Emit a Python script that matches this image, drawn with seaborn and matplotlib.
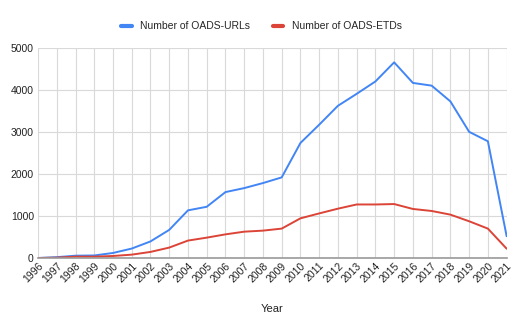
import matplotlib
matplotlib.use("Agg")
import matplotlib.pyplot as plt
from matplotlib.lines import Line2D
import seaborn as sns
import pandas as pd

years = list(range(1996, 2022))
oads_urls = [0, 20, 55, 60, 120, 225, 395, 670, 1135, 1220, 1570, 1665, 1785, 1920,
             2740, 3175, 3625, 3910, 4205, 4660, 4170, 4105, 3730, 3005, 2780, 520]
oads_etds = [0, 8, 32, 32, 48, 80, 145, 248, 415, 485, 563, 627, 652, 700,
             945, 1062, 1175, 1275, 1275, 1285, 1168, 1120, 1033, 875, 700, 222]

df = pd.DataFrame({
    "Year": years,
    "Number of OADS-URLs": oads_urls,
    "Number of OADS-ETDs": oads_etds,
})
long = df.melt(id_vars="Year", var_name="Series", value_name="Count")

sns.set_theme(style="white")
plt.rcParams["font.family"] = ["Liberation Sans", "DejaVu Sans"]

fig = plt.figure(figsize=(5.23, 3.27), dpi=100)
ax = fig.add_axes([0.0727, 0.211, 0.896, 0.642])

palette = {"Number of OADS-URLs": "#4285F4", "Number of OADS-ETDs": "#DB4437"}
sns.lineplot(data=long, x="Year", y="Count", hue="Series", palette=palette,
             linewidth=1.4, ax=ax, legend=False)

ax.set_xlim(1996, 2021)
ax.set_ylim(0, 5000)
ax.set_xticks(years)
ax.set_xticklabels([str(y) for y in years], rotation=45, ha="right",
                   rotation_mode="anchor", fontsize=7.5, color="#222222")
ax.set_yticks([0, 1000, 2000, 3000, 4000, 5000])
ax.set_yticklabels(["0", "1000", "2000", "3000", "4000", "5000"], fontsize=7.5,
                   color="#222222")
ax.tick_params(axis="both", length=0, pad=3)
ax.tick_params(axis="x", pad=2)

ax.grid(True, color="#d9d9d9", linewidth=0.8)
ax.set_axisbelow(True)
for side in ["top", "right", "left"]:
    ax.spines[side].set_visible(False)
ax.spines["bottom"].set_color("#999999")
ax.spines["bottom"].set_linewidth(1.2)

ax.set_xlabel("Year", fontsize=8, color="#222222", labelpad=14)
ax.set_ylabel("")

handles = [Line2D([0], [0], color=palette[k], linewidth=3) for k in palette]
fig.legend(handles, list(palette.keys()), loc="center", ncol=2,
           bbox_to_anchor=(0.5, 0.92), frameon=False, fontsize=7.5,
           handlelength=1.0, columnspacing=2.2, handletextpad=0.8)

fig.savefig("out.png", dpi=100, facecolor="white")
